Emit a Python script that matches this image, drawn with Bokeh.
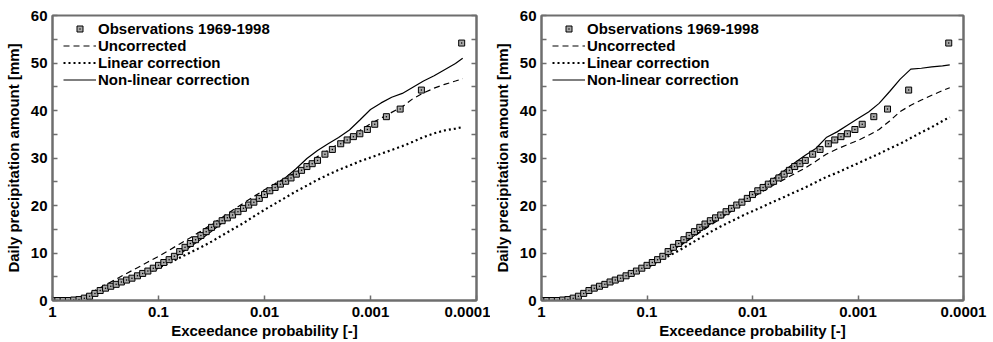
from bokeh.plotting import figure
from bokeh.models import (Range1d, FixedTicker, CustomJSTickFormatter, LinearAxis,
                          Legend, LegendItem)
from bokeh.layouts import row
from bokeh.embed import file_html
from bokeh.resources import INLINE

# ---------------- data ----------------
obs_prob = [1.0, 0.891, 0.794, 0.708, 0.631, 0.562, 0.501, 0.447, 0.398, 0.355,
            0.316, 0.282, 0.251, 0.224, 0.2, 0.178, 0.158, 0.141, 0.126, 0.112,
            0.1, 0.0891, 0.0794, 0.0708, 0.0631, 0.0562, 0.0501, 0.0447, 0.0398, 0.0355,
            0.0316, 0.0282, 0.0251, 0.0224, 0.02, 0.0178, 0.0158, 0.0141, 0.0126, 0.0112,
            0.01, 0.00891, 0.00794, 0.00708, 0.00631, 0.00562, 0.00501, 0.00447, 0.00398, 0.00355,
            0.00316, 0.00269, 0.00229, 0.00191, 0.00166, 0.00145, 0.00126, 0.00107,
            0.000912, 0.000708, 0.000525, 0.000331, 0.000138]
obs_mm = [0, 0, 0, 0, 0.1, 0.2, 0.5, 0.9, 1.5, 2.1,
          2.6, 3.0, 3.4, 3.9, 4.3, 4.7, 5.2, 5.7, 6.2, 6.8,
          7.4, 8.0, 8.6, 9.3, 10.3, 11.2, 12.0, 12.8, 13.7, 14.5,
          15.4, 16.1, 16.8, 17.4, 18.0, 18.7, 19.4, 20.1, 20.7, 21.5,
          22.3, 23.1, 23.8, 24.5, 25.1, 25.8, 26.6, 27.4, 28.2, 28.8,
          29.5, 30.8, 31.8, 33.0, 33.8, 34.5, 35.1, 36.0,
          37.1, 38.7, 40.3, 44.3, 54.2]

sim_prob = [1.0, 0.794, 0.631, 0.501, 0.398, 0.316, 0.251, 0.2, 0.158, 0.126,
            0.1, 0.0794, 0.0631, 0.0501, 0.0398, 0.0316, 0.0251, 0.02, 0.0158, 0.0126,
            0.01, 0.00794, 0.00631, 0.00501, 0.00398, 0.00316, 0.00251, 0.002, 0.00158, 0.00126,
            0.001, 0.000794, 0.000631, 0.000501, 0.000398, 0.000316, 0.000251, 0.0002, 0.000158, 0.000135]

left_uncorrected = [0, 0, 0.1, 0.9, 2.1, 3.3, 4.5, 5.7, 6.9, 8.1,
                    9.3, 10.6, 11.9, 13.2, 14.6, 16.0, 17.5, 19.0, 20.5, 21.9,
                    23.3, 24.6, 25.8, 27.0, 28.6, 30.3, 31.6, 33.0, 34.3, 35.8,
                    37.2, 38.4, 39.6, 40.8, 42.5, 43.7, 44.7, 45.5, 46.2, 46.7]
left_linear = [0, 0, 0, 0.4, 1.3, 2.3, 3.2, 4.1, 5.0, 5.9,
               6.9, 7.9, 9.0, 10.1, 11.2, 12.4, 13.7, 15.0, 16.3, 17.7,
               19.1, 20.4, 21.7, 23.0, 24.2, 25.4, 26.5, 27.5, 28.4, 29.3,
               30.1, 30.9, 31.7, 32.5, 33.4, 34.4, 35.2, 35.8, 36.2, 36.5]
left_nonlinear = [0, 0, 0, 0.3, 1.2, 2.3, 3.2, 4.1, 5.0, 6.0,
                  7.1, 8.4, 9.8, 11.3, 12.9, 14.6, 16.3, 17.9, 19.4, 21.0,
                  22.6, 24.2, 25.9, 27.8, 29.9, 31.6, 33.0, 34.3, 35.9, 38.0,
                  40.2, 41.6, 42.8, 43.6, 44.9, 46.2, 47.3, 48.6, 49.9, 51.0]

right_uncorrected = [0, 0, 0, 0.6, 1.5, 2.5, 3.4, 4.3, 5.3, 6.3,
                     7.4, 8.6, 9.9, 11.3, 12.8, 14.3, 15.8, 17.3, 18.8, 20.3,
                     21.7, 23.0, 24.3, 25.5, 26.7, 27.9, 29.3, 30.8, 31.9, 32.8,
                     33.7, 34.8, 36.0, 37.8, 39.8, 41.1, 42.2, 43.2, 44.2, 44.8]
right_linear = [0, 0, 0, 0.5, 1.4, 2.4, 3.3, 4.2, 5.1, 6.0,
                7.0, 8.1, 9.3, 10.5, 11.8, 13.1, 14.4, 15.6, 16.7, 17.8,
                18.8, 19.8, 20.8, 21.8, 22.8, 23.8, 24.9, 26.0, 26.9, 27.9,
                28.9, 29.9, 30.9, 32.0, 33.0, 34.2, 35.4, 36.5, 37.8, 38.6]
right_nonlinear = [0, 0, 0, 0.5, 1.4, 2.5, 3.4, 4.4, 5.4, 6.4,
                   7.5, 8.7, 10.0, 11.4, 12.9, 14.5, 16.1, 17.7, 19.3, 21.0,
                   22.6, 24.2, 25.7, 27.3, 29.0, 30.6, 32.0, 34.3, 35.5, 36.9,
                   38.3, 39.7, 41.5, 44.0, 46.6, 48.7, 48.9, 49.2, 49.4, 49.6]

x_ticks = [1, 0.1, 0.01, 0.001, 0.0001]
x_tick_labels = ["1", "0.1", "0.01", "0.001", "0.0001"]
y_ticks = [0, 10, 20, 30, 40, 50, 60]
y_minor = [5, 15, 25, 35, 45, 55]

legend_labels = ["Observations 1969-1998", "Uncorrected", "Linear correction",
                 "Non-linear correction"]

FONT = "Liberation Sans"
AX = "#6e6e6e"
FS = "15px"


def style_ticks(ax):
    ax.axis_line_color = AX
    ax.axis_line_width = 2
    ax.major_tick_line_color = AX
    ax.minor_tick_line_color = AX
    ax.major_tick_line_width = 1.5
    ax.minor_tick_line_width = 1.5
    ax.major_tick_in = 5
    ax.major_tick_out = 0
    ax.minor_tick_in = 5
    ax.minor_tick_out = 0


def make_panel(unc, lin, nonlin, width, left_border, right_border):
    p = figure(width=width, height=342, x_axis_type="log",
               x_range=Range1d(1, 0.0001), y_range=Range1d(0, 60),
               output_backend="svg", toolbar_location=None,
               min_border_left=left_border, min_border_right=right_border,
               min_border_top=15, min_border_bottom=42)
    p.grid.visible = False
    p.outline_line_color = AX
    p.outline_line_width = 2
    p.background_fill_color = "white"
    p.border_fill_color = "white"

    r_unc = p.line(sim_prob, unc, line_color="black", line_width=1.2, line_dash="6 4")
    r_lin = p.line(sim_prob, lin, line_color="black", line_width=2.2, line_dash="2 3")
    r_non = p.line(sim_prob, nonlin, line_color="black", line_width=1.2)
    r_obs = p.scatter(obs_prob, obs_mm, marker="square_dot", size=6,
                      fill_color="#a8a8a8", line_color="black", line_width=1)

    xa = p.xaxis[0]
    xa.ticker = FixedTicker(ticks=x_ticks, minor_ticks=[])
    xa.formatter = CustomJSTickFormatter(
        args=dict(vals=x_ticks, labs=x_tick_labels),
        code="""for (let i = 0; i < vals.length; i++) {
                   if (Math.abs(Math.log10(tick) - Math.log10(vals[i])) < 1e-6) return labs[i];
                 }
                 return '';""")
    xa.axis_label = "Exceedance probability [-]"
    ya = p.yaxis[0]
    ya.ticker = FixedTicker(ticks=y_ticks, minor_ticks=y_minor)
    ya.axis_label = "Daily precipitation amount [mm]"
    for ax in (xa, ya):
        style_ticks(ax)
        ax.major_label_text_font = FONT
        ax.major_label_text_font_style = "bold"
        ax.major_label_text_font_size = FS
        ax.major_label_text_color = "black"
        ax.axis_label_text_font = FONT
        ax.axis_label_text_font_style = "bold"
        ax.axis_label_text_font_size = FS
        ax.axis_label_text_color = "black"
    xa.major_label_standoff = 6
    xa.axis_label_standoff = 2
    ya.major_label_standoff = 5
    ya.axis_label_standoff = 6

    ra = LinearAxis(ticker=FixedTicker(ticks=y_ticks, minor_ticks=y_minor),
                    formatter=CustomJSTickFormatter(code="return '';"))
    style_ticks(ra)
    ra.major_label_standoff = 0
    p.add_layout(ra, "right")

    legend = Legend(items=[LegendItem(label=legend_labels[0], renderers=[r_obs]),
                           LegendItem(label=legend_labels[1], renderers=[r_unc]),
                           LegendItem(label=legend_labels[2], renderers=[r_lin]),
                           LegendItem(label=legend_labels[3], renderers=[r_non])],
                    location=(11, 212), margin=0, padding=0,
                    border_line_color=None, background_fill_alpha=0,
                    glyph_width=33, glyph_height=15, label_standoff=2,
                    label_height=15, spacing=0,
                    label_text_font=FONT, label_text_font_style="bold",
                    label_text_font_size=FS, label_text_color="black")
    p.add_layout(legend, "center")
    return p


p1 = make_panel(left_uncorrected, left_linear, left_nonlinear, 490, 52, 14)
p2 = make_panel(right_uncorrected, right_linear, right_nonlinear, 503, 49, 30)
layout = row(p1, p2)

open("out.html", "w").write(file_html(layout, INLINE))
